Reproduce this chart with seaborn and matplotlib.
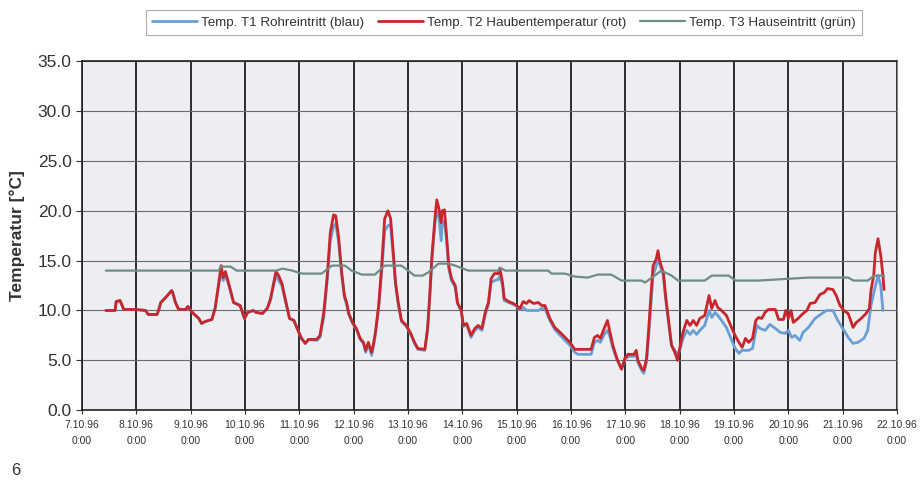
import matplotlib
matplotlib.use("Agg")
import matplotlib.pyplot as plt
import matplotlib.dates as mdates
import seaborn as sns
import pandas as pd

start = pd.Timestamp("1996-10-07 00:00")

# Temp. T2 Haubentemperatur (rot): days after 7.10.96 0:00, value in °C
t2_days = [0.44, 0.61, 0.63, 0.70, 0.74, 0.77, 0.99, 1.17, 1.22, 1.38, 1.41, 1.45, 1.54, 1.65, 1.67,
           1.72, 1.78, 1.91, 1.95, 1.99, 2.05, 2.15, 2.20, 2.27, 2.39, 2.45, 2.51, 2.56, 2.60, 2.64,
           2.71, 2.79, 2.91, 2.99, 3.05, 3.15, 3.21, 3.32, 3.41, 3.47, 3.53, 3.57, 3.62, 3.68, 3.74,
           3.82, 3.90, 3.96, 4.04, 4.11, 4.17, 4.32, 4.38, 4.45, 4.51, 4.57, 4.63, 4.67, 4.72, 4.78,
           4.83, 4.87, 4.91, 4.98, 5.05, 5.12, 5.18, 5.22, 5.27, 5.33, 5.36, 5.40, 5.46, 5.52, 5.57,
           5.63, 5.68, 5.73, 5.77, 5.82, 5.88, 5.97, 6.05, 6.12, 6.18, 6.31, 6.36, 6.40, 6.44, 6.50,
           6.53, 6.57, 6.61, 6.63, 6.67, 6.71, 6.75, 6.80, 6.87, 6.91, 6.98, 7.02, 7.08, 7.16, 7.23,
           7.29, 7.36, 7.42, 7.48, 7.53, 7.59, 7.66, 7.69, 7.74, 7.77, 7.85, 7.94, 8.00, 8.06, 8.12,
           8.18, 8.23, 8.31, 8.40, 8.46, 8.52, 8.61, 8.70, 8.80, 8.89, 8.98, 9.07, 9.37, 9.43, 9.49,
           9.54, 9.61, 9.67, 9.71, 9.77, 9.85, 9.93, 9.99, 10.05, 10.16, 10.20, 10.23, 10.30, 10.34, 10.39,
           10.43, 10.47, 10.51, 10.57, 10.60, 10.63, 10.70, 10.74, 10.79, 10.85, 10.91, 10.96, 11.00, 11.06, 11.13,
           11.19, 11.25, 11.31, 11.37, 11.46, 11.54, 11.59, 11.65, 11.70, 11.77, 11.86, 11.96, 12.02, 12.08, 12.15,
           12.21, 12.27, 12.34, 12.40, 12.45, 12.51, 12.57, 12.63, 12.76, 12.82, 12.91, 12.95, 13.00, 13.05, 13.09,
           13.18, 13.27, 13.34, 13.40, 13.49, 13.58, 13.66, 13.72, 13.82, 13.88, 13.95, 14.02, 14.10, 14.19, 14.25,
           14.34, 14.43, 14.49, 14.52, 14.57, 14.60, 14.65, 14.70, 14.74, 14.76]
t2_vals = [10.0, 10.0, 10.9, 11.0, 10.5, 10.1, 10.1, 10.0, 9.6, 9.6, 10.0, 10.8, 11.3, 12.0, 11.8,
           10.8, 10.1, 10.1, 10.4, 10.1, 9.7, 9.2, 8.7, 8.9, 9.1, 10.2, 12.5, 14.5, 13.3, 13.9,
           12.5, 10.8, 10.5, 9.2, 9.8, 10.0, 9.8, 9.7, 10.2, 11.2, 12.8, 13.9, 13.5, 12.7, 11.2,
           9.2, 9.0, 8.2, 7.2, 6.7, 7.1, 7.1, 7.5, 9.8, 13.2, 17.8, 19.6, 19.5, 17.5, 13.8,
           11.5, 10.8, 9.7, 8.8, 8.2, 7.2, 6.8, 6.0, 6.8, 5.8, 6.5, 7.8, 10.5, 14.8, 19.2,
           20.0, 19.2, 15.8, 12.8, 10.8, 9.0, 8.5, 7.7, 6.8, 6.2, 6.1, 8.2, 11.5, 15.5, 19.5,
           21.1, 20.2, 18.8, 20.0, 20.1, 17.5, 14.5, 13.2, 12.5, 10.8, 10.0, 8.5, 8.7, 7.5, 8.2,
           8.5, 8.2, 9.8, 10.8, 13.2, 13.7, 13.7, 14.2, 12.8, 11.2, 10.9, 10.7, 10.5, 10.2, 10.9,
           10.7, 11.0, 10.7, 10.8, 10.5, 10.5, 9.2, 8.3, 7.8, 7.3, 6.8, 6.1, 6.1, 7.3, 7.5,
           7.2, 8.2, 9.0, 8.0, 6.5, 5.1, 4.1, 5.2, 5.6, 5.6, 6.0, 5.0, 4.2, 4.0, 5.2,
           8.2, 11.5, 14.5, 15.2, 16.0, 15.0, 13.8, 11.5, 9.2, 6.5, 5.8, 5.0, 6.2, 7.8, 9.0,
           8.5, 9.0, 8.5, 9.2, 9.5, 11.5, 10.2, 11.0, 10.3, 10.0, 9.5, 8.2, 7.5, 6.9, 6.3,
           7.2, 6.8, 7.2, 9.0, 9.3, 9.2, 9.8, 10.1, 10.1, 9.1, 9.1, 10.0, 9.2, 10.0, 8.8,
           9.2, 9.7, 10.0, 10.7, 10.8, 11.6, 11.8, 12.2, 12.1, 11.5, 10.5, 10.0, 9.7, 8.3, 8.8,
           9.2, 9.7, 10.2, 12.0, 13.5, 15.8, 17.2, 15.5, 13.5, 12.1]

# Temp. T1 Rohreintritt (blau)
t1_days = [0.44, 0.61, 0.63, 0.70, 0.74, 0.77, 0.99, 1.17, 1.22, 1.38, 1.41, 1.45, 1.54, 1.65, 1.67,
           1.72, 1.78, 1.91, 1.95, 1.99, 2.05, 2.15, 2.20, 2.27, 2.39, 2.45, 2.51, 2.56, 2.60, 2.64,
           2.71, 2.79, 2.91, 2.99, 3.05, 3.15, 3.21, 3.32, 3.41, 3.47, 3.53, 3.57, 3.62, 3.68, 3.74,
           3.82, 3.90, 3.96, 4.04, 4.11, 4.17, 4.32, 4.38, 4.45, 4.51, 4.57, 4.63, 4.67, 4.72, 4.78,
           4.83, 4.87, 4.91, 4.98, 5.05, 5.12, 5.18, 5.22, 5.27, 5.33, 5.36, 5.40, 5.46, 5.52, 5.57,
           5.63, 5.68, 5.73, 5.77, 5.82, 5.88, 5.97, 6.05, 6.12, 6.18, 6.31, 6.36, 6.40, 6.44, 6.50,
           6.53, 6.57, 6.61, 6.63, 6.67, 6.71, 6.75, 6.80, 6.87, 6.91, 6.98, 7.02, 7.08, 7.16, 7.23,
           7.29, 7.36, 7.42, 7.48, 7.53, 7.59, 7.66, 7.69, 7.74, 7.77, 7.85, 7.94, 8.00, 8.06, 8.12,
           8.18, 8.23, 8.31, 8.40, 8.46, 8.52, 8.61, 8.70, 8.80, 8.89, 8.98, 9.07, 9.13, 9.37, 9.43,
           9.49, 9.54, 9.61, 9.67, 9.71, 9.77, 9.85, 9.93, 9.99, 10.05, 10.16, 10.20, 10.23, 10.30, 10.34,
           10.39, 10.43, 10.47, 10.51, 10.57, 10.60, 10.63, 10.70, 10.74, 10.79, 10.85, 10.91, 10.96, 11.00, 11.06,
           11.13, 11.19, 11.25, 11.31, 11.37, 11.46, 11.54, 11.59, 11.65, 11.70, 11.77, 11.86, 11.96, 12.02, 12.09,
           12.15, 12.27, 12.34, 12.42, 12.48, 12.57, 12.66, 12.76, 12.85, 12.94, 13.00, 13.06, 13.12, 13.21, 13.27,
           13.37, 13.49, 13.62, 13.70, 13.82, 13.91, 14.00, 14.10, 14.19, 14.28, 14.39, 14.46, 14.52, 14.59, 14.65,
           14.70, 14.74]
t1_vals = [10.0, 10.0, 10.9, 11.0, 10.5, 10.1, 10.1, 10.0, 9.6, 9.6, 10.0, 10.8, 11.3, 12.0, 11.8,
           10.8, 10.1, 10.1, 10.4, 10.1, 9.7, 9.2, 8.7, 8.9, 9.1, 10.2, 12.3, 13.8, 13.0, 13.6,
           12.4, 10.8, 10.5, 9.2, 9.8, 10.0, 9.8, 9.7, 10.2, 11.0, 12.6, 13.5, 13.0, 12.5, 11.0,
           9.2, 9.0, 8.2, 7.2, 6.7, 7.1, 7.0, 7.3, 9.3, 12.8, 17.0, 18.5, 18.7, 17.0, 13.5,
           11.3, 10.6, 9.6, 8.7, 8.1, 7.1, 6.7, 5.8, 6.6, 5.5, 6.3, 7.6, 10.2, 14.2, 18.0,
           18.5, 18.6, 15.3, 12.6, 10.6, 8.9, 8.4, 7.6, 6.7, 6.1, 6.0, 8.0, 11.2, 15.0, 19.0,
           19.8, 19.3, 17.0, 18.8, 19.0, 17.0, 14.2, 13.0, 12.3, 10.7, 9.9, 8.4, 8.6, 7.3, 8.0,
           8.3, 8.0, 9.5, 10.6, 12.8, 13.0, 13.1, 13.5, 12.5, 11.0, 10.8, 10.6, 10.4, 10.1, 10.3,
           10.0, 10.0, 10.0, 10.0, 10.2, 10.2, 9.0, 8.1, 7.5, 7.0, 6.5, 5.8, 5.6, 5.6, 6.8,
           7.0, 6.8, 7.6, 8.0, 7.5, 6.2, 5.0, 4.2, 5.0, 5.4, 5.4, 5.6, 4.8, 4.0, 3.7,
           4.8, 7.5, 10.5, 13.5, 14.5, 15.0, 14.7, 13.5, 11.2, 9.0, 6.5, 6.0, 5.5, 6.0, 7.2,
           8.0, 7.6, 8.0, 7.6, 8.0, 8.5, 10.0, 9.3, 9.8, 9.5, 9.0, 8.3, 7.0, 6.2, 5.7,
           6.0, 6.0, 6.2, 8.5, 8.2, 8.0, 8.6, 8.2, 7.8, 7.7, 8.0, 7.3, 7.5, 7.0, 7.8,
           8.3, 9.2, 9.7, 10.0, 10.0, 9.0, 8.2, 7.3, 6.7, 6.8, 7.2, 8.0, 10.5, 12.2, 13.5,
           12.5, 10.0]

# Temp. T3 Hauseintritt (grün)
t3_days = [0.44, 2.51, 2.56, 2.73, 2.85, 3.57, 3.69, 3.87, 4.05, 4.41, 4.60, 4.84, 4.96, 5.15, 5.39,
           5.57, 5.88, 6.00, 6.12, 6.27, 6.37, 6.56, 6.74, 6.87, 7.11, 7.66, 7.69, 7.79, 8.58, 8.64,
           8.89, 9.07, 9.31, 9.49, 9.74, 9.93, 10.30, 10.36, 10.54, 10.66, 10.85, 10.97, 11.46, 11.59, 11.90,
           12.03, 12.45, 13.37, 14.10, 14.20, 14.46, 14.58, 14.76]
t3_vals = [14.0, 14.0, 14.4, 14.4, 14.0, 14.0, 14.2, 14.0, 13.7, 13.7, 14.5, 14.5, 14.0, 13.6, 13.6,
           14.5, 14.5, 14.0, 13.5, 13.5, 13.8, 14.7, 14.7, 14.5, 14.0, 14.0, 14.3, 14.0, 14.0, 13.7,
           13.7, 13.4, 13.3, 13.6, 13.6, 13.0, 13.0, 12.8, 13.5, 14.0, 13.5, 13.0, 13.0, 13.5, 13.5,
           13.0, 13.0, 13.3, 13.3, 13.0, 13.0, 13.5, 13.5]

labels = ["Temp. T1 Rohreintritt (blau)", "Temp. T2 Haubentemperatur (rot)", "Temp. T3 Hauseintritt (grün)"]
colors = ["#6a9fd6", "#c8262c", "#6e8c88"]


def to_time(days):
    return start + pd.to_timedelta(days, unit="D")


sns.set_style("white")
plt.rcParams["font.family"] = ["Liberation Sans", "DejaVu Sans"]

fig = plt.figure(figsize=(9.21, 4.86), dpi=100)
ax = fig.add_axes([0.089, 0.156, 0.885, 0.718])
ax.set_facecolor("#eceef1")

sns.lineplot(x=to_time(t1_days), y=t1_vals, ax=ax, color=colors[0], linewidth=2.0, label=labels[0])
sns.lineplot(x=to_time(t2_days), y=t2_vals, ax=ax, color=colors[1], linewidth=2.0, label=labels[1])
sns.lineplot(x=to_time(t3_days), y=t3_vals, ax=ax, color=colors[2], linewidth=1.6, label=labels[2])

ax.set_xlim(start, start + pd.Timedelta(days=15))
ax.set_ylim(0, 35)
ax.set_yticks(range(0, 36, 5))
ax.yaxis.set_major_formatter(matplotlib.ticker.FormatStrFormatter("%.1f"))
ax.xaxis.set_major_locator(mdates.DayLocator())
ax.xaxis.set_major_formatter(mdates.DateFormatter("%-d.%m.%y\n%-H:%M"))

ax.grid(axis="y", color="#6a6a6a", linewidth=0.8)
ax.grid(axis="x", color="#1e1e1e", linewidth=1.3)
ax.set_axisbelow(True)
for side in ["left", "bottom", "top"]:
    ax.spines[side].set_color("#222222")
    ax.spines[side].set_linewidth(1.2)
ax.spines["right"].set_color("#888888")

ax.tick_params(axis="y", labelsize=12.5, colors="#333333", length=4, direction="out", left=True)
ax.tick_params(axis="x", labelsize=7.5, colors="#333333", length=3, direction="out", bottom=True, pad=4)
for lbl in ax.get_xticklabels():
    lbl.set_linespacing(1.7)
ax.set_xlabel("")
ax.set_ylabel("Temperatur [°C]", fontsize=12.5, fontweight="bold", color="#333333", labelpad=9)

ax.get_legend().remove()
handles, _ = ax.get_legend_handles_labels()
leg = fig.legend(handles, labels, loc="center", bbox_to_anchor=(0.547, 0.954), ncol=3,
                 fontsize=9.6, frameon=True, fancybox=False, edgecolor="#999999",
                 handlelength=3.4, handletextpad=0.3, columnspacing=1.0, borderpad=0.45)
leg.get_frame().set_linewidth(0.8)
for txt in leg.get_texts():
    txt.set_color("#333333")

fig.text(0.012, 0.022, "6", fontsize=12, color="#333333")

fig.savefig("out.png", dpi=100)
